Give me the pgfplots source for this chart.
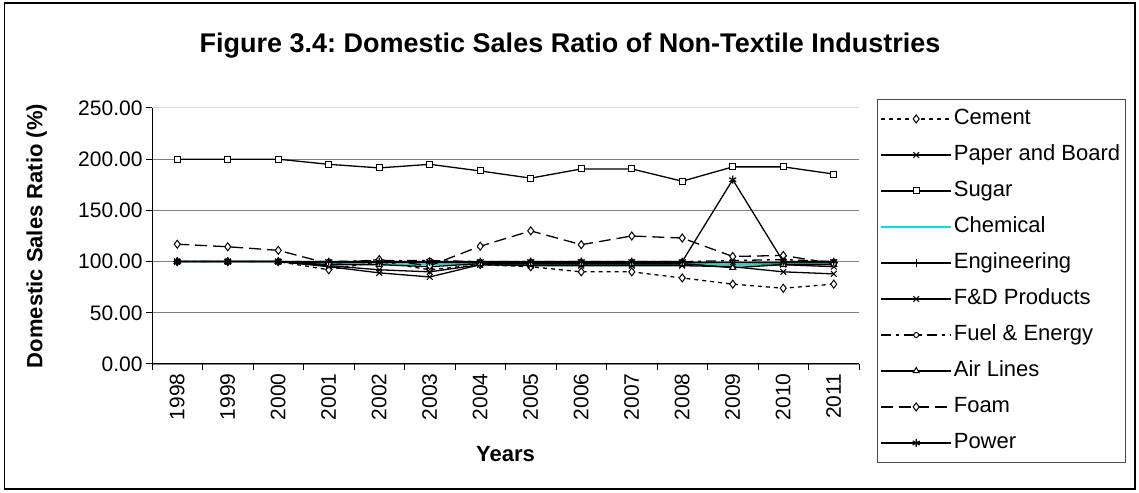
\documentclass[border=0pt]{standalone}
\usepackage{pgfplots}
\pgfplotsset{compat=1.18}
\usepackage{fontspec}
\setmainfont{Liberation Sans}
\frenchspacing
\definecolor{chem}{RGB}{0,225,225}
\begin{document}
\begin{tikzpicture}
\begin{axis}[
  at={(152pt,128pt)}, anchor=south west,
  scale only axis, width=707pt, height=256pt,
  xmin=-0.5, xmax=13.5, ymin=0, ymax=250,
  axis x line*=bottom, axis y line*=left,
  axis line style={black, line width=1pt},
  xtick={0,...,13},
  xticklabels={1998,1999,2000,2001,2002,2003,2004,2005,2006,2007,2008,2009,2010,2011},
  major x tick style={draw=none},
  minor xtick={-0.5,0.5,...,13.5},
  minor tick length=6pt,
  major tick length=6pt,
  tick align=outside,
  tick style={black, line width=1pt},
  xticklabel style={rotate=90, anchor=east, font=\fontsize{21}{25}\selectfont},
  ytick={0,50,100,150,200},
  extra y ticks={250},
  extra y tick style={grid style={black!15, line width=1pt}},
  ymajorgrids,
  grid style={black!50, line width=1.2pt},
  yticklabel style={font=\fontsize{21}{25}\selectfont},
  /pgf/number format/.cd, fixed, fixed zerofill, precision=2, assume math mode=true,
  /pgfplots/.cd,
  xlabel={Years},
  xlabel style={font=\bfseries\fontsize{22}{26}\selectfont, at={(axis description cs:0.5,-0.352)}, anchor=center},
  ylabel={Domestic Sales Ratio (\%)},
  ylabel style={font=\bfseries\fontsize{22}{26}\selectfont, at={(axis description cs:-0.163,0.5)}, anchor=center},
  every axis plot/.append style={line width=1.3pt},
  legend image code/.code={\draw[mark repeat=2,mark phase=2,#1] plot coordinates {(0pt,0pt) (35pt,0pt) (70pt,0pt)};},
  legend cell align=left,
  legend style={at={(axis description cs:1.0255,1.0352)}, anchor=north west,
    draw=black!70, line width=1pt, fill=white,
    font=\fontsize{22}{26}\selectfont, row sep=15pt,
    nodes={text height=16pt, text depth=5pt, inner ysep=0pt},
    inner ysep=9pt, inner xsep=3pt},
]
% Cement
\addplot[black, dash pattern=on 4pt off 4pt, mark=diamond*, mark size=4pt, mark options={solid, fill=white, line width=1pt}]
  coordinates {(0,100)(1,100)(2,100)(3,92)(4,100)(5,92)(6,97)(7,95)(8,90)(9,90)(10,84)(11,78)(12,74)(13,78)};
\addlegendentry{Cement}
% Paper and Board
\addplot[black, mark=x, mark size=4pt, mark options={solid, line width=1pt}]
  coordinates {(0,100)(1,100)(2,100)(3,95)(4,89)(5,85)(6,97)(7,97)(8,97)(9,97)(10,97)(11,97)(12,97)(13,95)};
\addlegendentry{Paper and Board}
% Sugar
\addplot[black, mark=square*, mark size=3pt, mark options={solid, fill=white, line width=1pt}]
  coordinates {(0,200)(1,200)(2,200)(3,195)(4,191.5)(5,195)(6,188.5)(7,181.5)(8,190.5)(9,190.5)(10,178.5)(11,192.5)(12,192.5)(13,185.5)};
\addlegendentry{Sugar}
% Chemical
\addplot[chem, no markers]
  coordinates {(0,100)(1,100)(2,100)(3,98)(4,97)(5,97)(6,98)(7,98)(8,98)(9,98)(10,98)(11,97)(12,98)(13,98)};
\addlegendentry{Chemical}
% Engineering
\addplot[black, mark=+, mark size=4pt, mark options={solid, line width=1pt}]
  coordinates {(0,100)(1,100)(2,100)(3,99)(4,99)(5,99)(6,99)(7,99)(8,99)(9,99)(10,99)(11,99)(12,99)(13,99)};
\addlegendentry{Engineering}
% F&D Products
\addplot[black, mark=x, mark size=4pt, mark options={solid, line width=1pt}]
  coordinates {(0,100)(1,100)(2,100)(3,96)(4,92)(5,90)(6,97)(7,96)(8,96)(9,96)(10,96)(11,95)(12,90)(13,88)};
\addlegendentry{F\&D Products}
% Fuel & Energy
\addplot[black, dash pattern=on 10pt off 5pt on 3pt off 5pt, mark=o, mark size=2.5pt, mark options={solid, fill=white, line width=1pt}]
  coordinates {(0,100)(1,100)(2,100)(3,100)(4,101)(5,101)(6,100)(7,100)(8,100)(9,100)(10,100)(11,101)(12,102)(13,100)};
\addlegendentry{Fuel \& Energy}
% Air Lines
\addplot[black, mark=triangle*, mark size=3.5pt, mark options={solid, fill=white, line width=1pt}]
  coordinates {(0,100)(1,100)(2,100)(3,97)(4,97)(5,95)(6,98)(7,98)(8,98)(9,98)(10,98)(11,94)(12,97)(13,97)};
\addlegendentry{Air Lines}
% Foam
\addplot[black, dash pattern=on 12pt off 6pt, mark=diamond*, mark size=4pt, mark options={solid, fill=white, line width=1pt}]
  coordinates {(0,117)(1,114.5)(2,111)(3,98)(4,102)(5,96)(6,115)(7,130)(8,116.5)(9,125)(10,123)(11,105)(12,106)(13,98)};
\addlegendentry{Foam}
% Power
\addplot[black, mark=asterisk, mark size=4pt, mark options={solid, line width=1.2pt}]
  coordinates {(0,100)(1,100)(2,100)(3,100)(4,100)(5,100)(6,100)(7,100)(8,100)(9,100)(10,100)(11,180)(12,100)(13,100)};
\addlegendentry{Power}
\end{axis}
\node[font=\bfseries\fontsize{27}{32}\selectfont] at (570pt,446pt) {Figure 3.4: Domestic Sales Ratio of Non-Textile Industries};
\draw[black, line width=1.3pt] (4.5pt,3pt) rectangle (1135pt,489pt);
\pgfresetboundingbox
\path[use as bounding box] (0,0) rectangle (1139pt,492pt);
\end{tikzpicture}
\end{document}
